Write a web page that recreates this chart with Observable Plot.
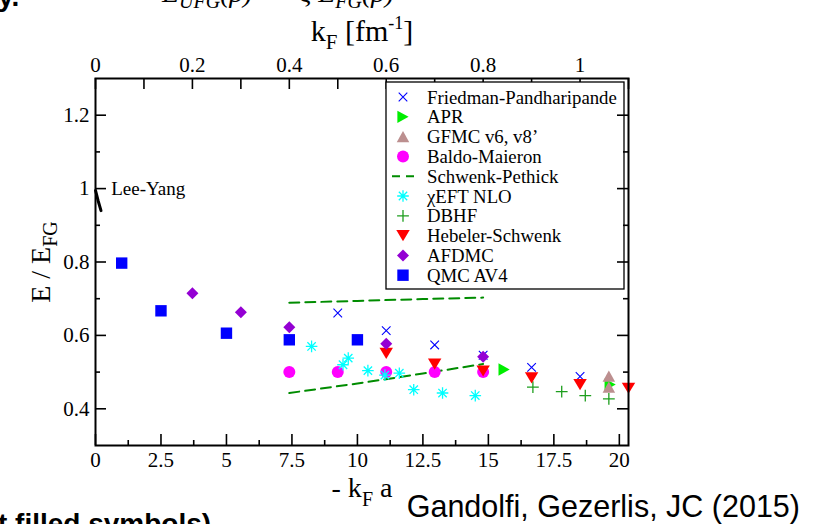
<!DOCTYPE html>
<html><head><meta charset="utf-8">
<script src="https://cdn.jsdelivr.net/npm/d3@7"></script>
<script src="https://cdn.jsdelivr.net/npm/@observablehq/plot@0.6"></script>
<style>body{margin:0;background:#fff;overflow:hidden}#wrap{position:relative;width:817px;height:524px;overflow:hidden}</style>
</head><body><div id="wrap"></div>
<script>
// |a| of neutron scattering length (fm) linking top (kF) and bottom (-kF a) axes
const A = 18.5;
const kfTicks = [0,0.1,0.2,0.3,0.4,0.5,0.6,0.7,0.8,0.9,1.0,1.1];
const kfMajor = [0,0.2,0.4,0.6,0.8,1.0];
const xMajor = [0,2.5,5,7.5,10,12.5,15,17.5,20];
const xMinor = [1.25,3.75,6.25,8.75,11.25,13.75,16.25,18.75];
const yMajor = [0.4,0.6,0.8,1.0,1.2];
const yMinor = [0.5,0.7,0.9,1.1];

const fpX = [9.25,11.1,12.95,14.8,16.65,18.5];
const fpY = [0.661,0.613,0.574,0.546,0.513,0.488];
const aprX = [15.6,19.65];
const aprY = [0.507,0.466];
const gfmcX = [19.6,19.6];
const gfmcY = [0.489,0.459];
const bmX = [7.4,9.25,11.1,12.95,14.8];
const bmY = [0.500,0.500,0.500,0.500,0.500];
const spUpX = [7.4,10,12.5,14.8];
const spUpY = [0.689,0.694,0.699,0.703];
const spLoX = [7.4,10,12.5,14.8];
const spLoY = [0.443,0.469,0.496,0.522];
const eftX = [8.25,9.45,9.65,10.4,11.05,11.6,12.15,13.25,14.5];
const eftY = [0.570,0.520,0.538,0.504,0.492,0.497,0.452,0.443,0.436];
const dbhfX = [16.7,17.8,18.7,19.6];
const dbhfY = [0.459,0.447,0.436,0.427];
const hsX = [11.1,12.95,14.8,16.65,18.5,20.35];
const hsY = [0.551,0.522,0.503,0.484,0.466,0.456];
const afX = [3.7,5.55,7.4,11.1,14.8];
const afY = [0.715,0.663,0.622,0.577,0.542];
const qmcX = [1.0,2.5,5.0,7.4,10.0];
const qmcY = [0.797,0.667,0.606,0.588,0.588];
const lyX = [0,0.1,0.21];
const lyY = [0.995,0.967,0.94];
const lyLabel = [{x:0.6, y:1.0, t:"Lee-Yang"}];

const legendNames = ["Friedman-Pandharipande","APR","GFMC v6, v8\u2019","Baldo-Maieron","Schwenk-Pethick","\u03c7EFT NLO","DBHF","Hebeler-Schwenk","AFDMC","QMC AV4"];

const pts = (X,Y) => X.map((x,i)=>({x, y:Y[i]}));

function sym(f){ return {draw(c,size){ f(c, Math.sqrt(size/Math.PI)); }}; }
const S = {
  square: sym((c,r)=>{c.moveTo(-r,-r);c.lineTo(r,-r);c.lineTo(r,r);c.lineTo(-r,r);c.closePath();}),
  diamond: sym((c,r)=>{c.moveTo(0,-r);c.lineTo(r,0);c.lineTo(0,r);c.lineTo(-r,0);c.closePath();}),
  down: sym((c,r)=>{c.moveTo(-1.2*r,-r);c.lineTo(1.2*r,-r);c.lineTo(0,r);c.closePath();}),
  right: sym((c,r)=>{c.moveTo(-r,-1.1*r);c.lineTo(r,0);c.lineTo(-r,1.1*r);c.closePath();}),
  up: sym((c,r)=>{c.moveTo(-1.1*r,r);c.lineTo(1.1*r,r);c.lineTo(0,-r);c.closePath();}),
  times: sym((c,r)=>{c.moveTo(-r,-r);c.lineTo(r,r);c.moveTo(-r,r);c.lineTo(r,-r);}),
  plus: sym((c,r)=>{c.moveTo(-r,0);c.lineTo(r,0);c.moveTo(0,-r);c.lineTo(0,r);}),
  aster: sym((c,r)=>{c.moveTo(-r,0);c.lineTo(r,0);c.moveTo(0,-r);c.lineTo(0,r);const q=0.72*r;c.moveTo(-q,-q);c.lineTo(q,q);c.moveTo(-q,q);c.lineTo(q,-q);}),
  circle: sym((c,r)=>{c.moveTo(r,0);c.arc(0,0,r,0,2*Math.PI);c.closePath();})
};
const C = {fp:"#0000ff", apr:"#00ee00", gfmc:"#bc8f8f", bm:"#ff00ff", sp:"#008c00", eft:"#00ffff", dbhf:"#1e9e1e", hs:"#ff0000", af:"#9400d3", qmc:"#0000ff"};
const styles = [
  {s:S.times, r:4.3, fill:"none", stroke:C.fp, sw:1.1},
  {s:S.right, r:5.6, fill:C.apr, stroke:"none"},
  {s:S.up, r:5.7, fill:C.gfmc, stroke:"none"},
  {s:S.circle, r:6.0, fill:C.bm, stroke:"none"},
  null,
  {s:S.aster, r:5.8, fill:"none", stroke:C.eft, sw:1.3},
  {s:S.plus, r:5.9, fill:"none", stroke:C.dbhf, sw:1.3},
  {s:S.down, r:5.6, fill:C.hs, stroke:"none"},
  {s:S.diamond, r:6.0, fill:C.af, stroke:"none"},
  {s:S.square, r:5.7, fill:C.qmc, stroke:"none"}
];
const dot = (data, st) => Plot.dot(data, {x:"x", y:"y", symbol: st.s, r: st.r, fill: st.fill, stroke: st.stroke, strokeWidth: st.sw||0});

const W = 817, H = 524, mL = 95, mR = 189, mT = 78, mB = 79;
const fw = W - mL - mR, fh = H - mT - mB;
const fmt = d => String(+(+d).toFixed(2));

const chart = Plot.plot({
  width: W, height: H, marginLeft: mL, marginRight: mR, marginTop: mT, marginBottom: mB,
  x: {domain: [0, 1.1*A]},
  y: {domain: [0.3, 1.3]},
  style: {fontFamily: "Liberation Serif", fontSize: "21px", color: "black", background: "white"},
  marks: [
    Plot.line(pts(spUpX, spUpY), {x:"x", y:"y", stroke: C.sp, strokeWidth: 2, strokeDasharray: "10,6"}),
    Plot.line(pts(spLoX, spLoY), {x:"x", y:"y", stroke: C.sp, strokeWidth: 2, strokeDasharray: "10,6"}),
    Plot.line(pts(lyX, lyY), {x:"x", y:"y", stroke: "black", strokeWidth: 3}),
    Plot.text(lyLabel, {x:"x", y:"y", text:"t", textAnchor:"start", fontSize: 19, fontFamily:"Liberation Serif"}),
    dot(pts(fpX, fpY), styles[0]),
    dot(pts(aprX, aprY), styles[1]),
    dot(pts(gfmcX, gfmcY), styles[2]),
    dot(pts(bmX, bmY), styles[3]),
    dot(pts(eftX, eftY), styles[5]),
    dot(pts(dbhfX, dbhfY), styles[6]),
    dot(pts(hsX, hsY), styles[7]),
    dot(pts(afX, afY), styles[8]),
    dot(pts(qmcX, qmcY), styles[9]),
    // ticks (inward)
    Plot.tickX(xMajor, {x: d=>d, insetTop: fh-11, stroke:"black", strokeWidth:1.6}),
    Plot.tickX(xMinor, {x: d=>d, insetTop: fh-5, stroke:"black", strokeWidth:1.6}),
    Plot.tickX(kfTicks.map(k=>k*A), {x: d=>d, insetBottom: fh-11, stroke:"black", strokeWidth:1.6}),
    Plot.tickY(yMajor, {y: d=>d, insetRight: fw-11, stroke:"black", strokeWidth:1.6}),
    Plot.tickY(yMinor, {y: d=>d, insetRight: fw-5, stroke:"black", strokeWidth:1.6}),
    Plot.axisX({anchor:"bottom", ticks: xMajor, tickSize: 0, tickPadding: 7, tickFormat: fmt, label: null}),
    Plot.axisX({anchor:"top", ticks: kfMajor.map(k=>k*A), tickSize: 0, tickPadding: 7, tickFormat: d => fmt(d/A), label: null}),
    Plot.axisY({anchor:"left", ticks: yMajor, tickSize: 0, tickPadding: 6, tickFormat: fmt, label: null})
  ]
});

document.getElementById("wrap").appendChild(chart);
const svg = d3.select(chart);

// Legend box (covers the top ticks, as in the reference)
const lg = svg.append("g");
const lx0 = 386, ly0 = 82, lw = 238, lh = 207;
lg.append("rect").attr("x", lx0).attr("y", ly0).attr("width", lw).attr("height", lh)
  .attr("fill", "white").attr("stroke", "black").attr("stroke-width", 1.3);
legendNames.forEach((name, i) => {
  const yy = 97 + i*19.8;
  const st = styles[i];
  if (st) {
    const p = d3.path(); st.s.draw(p, st.r*st.r*Math.PI);
    lg.append("path").attr("d", p.toString()).attr("transform", `translate(403,${yy})`)
      .attr("fill", st.fill).attr("stroke", st.stroke).attr("stroke-width", st.sw||0);
  } else {
    lg.append("line").attr("x1", 392).attr("x2", 416).attr("y1", yy).attr("y2", yy)
      .attr("stroke", C.sp).attr("stroke-width", 2).attr("stroke-dasharray", "8,6");
  }
  lg.append("text").attr("x", 427).attr("y", yy).attr("dy", "0.35em").attr("text-anchor", "start")
    .attr("font-family", "Liberation Serif").attr("font-size", 18.8).text(name);
});

// right-side ticks and frame drawn by Plot on top of the legend
const overlayPlot = Plot.plot({
  width: W, height: H, marginLeft: mL, marginRight: mR, marginTop: mT, marginBottom: mB,
  x: {domain: [0, 1.1*A], axis: null}, y: {domain: [0.3, 1.3], axis: null},
  style: {background: "transparent"},
  marks: [
    Plot.tickY(yMajor, {y: d=>d, insetLeft: fw-11, stroke:"black", strokeWidth:1.6}),
    Plot.tickY(yMinor, {y: d=>d, insetLeft: fw-5, stroke:"black", strokeWidth:1.6}),
    Plot.frame({stroke:"black", strokeWidth: 2})
  ]
});
for (const n of Array.from(overlayPlot.childNodes)) {
  if (n.nodeType === 1 && n.tagName.toLowerCase() !== "style") chart.appendChild(n);
}

// axis titles
const yl = svg.append("text").attr("transform", "translate(50,262) rotate(-90)")
  .attr("text-anchor", "middle").attr("font-family", "Liberation Serif").attr("font-size", 28);
yl.append("tspan").text("E / E");
yl.append("tspan").attr("font-size", 20).attr("dy", 7).text("FG");

const tl = svg.append("text").attr("x", 362).attr("y", 41).attr("text-anchor", "middle")
  .attr("font-family", "Liberation Serif").attr("font-size", 30);
tl.append("tspan").text("k");
tl.append("tspan").attr("font-size", 21).attr("dy", 8).text("F");
tl.append("tspan").attr("dy", -8).text(" [fm");
tl.append("tspan").attr("font-size", 18).attr("dy", -12).text("-1");
tl.append("tspan").attr("dy", 12).text("]");

const bl = svg.append("text").attr("x", 362).attr("y", 497).attr("text-anchor", "middle")
  .attr("font-family", "Liberation Serif").attr("font-size", 28);
bl.append("tspan").text("- k");
bl.append("tspan").attr("font-size", 20).attr("dy", 9).text("F");
bl.append("tspan").attr("dy", -9).text(" a");

svg.append("text").attr("x", 800).attr("y", 517).attr("text-anchor", "end")
  .attr("font-family", "Liberation Sans").attr("font-size", 30.5).text("Gandolfi, Gezerlis, JC (2015)");

// cut-off slide text above and below the figure
svg.append("text").attr("x", -2).attr("y", 6).attr("text-anchor", "start").attr("font-family", "Liberation Sans").attr("font-weight", "bold")
  .attr("font-size", 28).text("y.");
const tt = svg.append("text").attr("x", 162).attr("y", 2).attr("text-anchor", "start").attr("font-family", "Liberation Serif").attr("font-style", "italic").attr("font-size", 28);
tt.append("tspan").text("E");
tt.append("tspan").attr("font-size", 20).attr("dy", 6).text("UFG");
tt.append("tspan").attr("dy", -6).text("(\u03c1)  =  \u03be E");
tt.append("tspan").attr("font-size", 20).attr("dy", 6).text("FG");
tt.append("tspan").attr("dy", -6).text("(\u03c1)");
svg.append("text").attr("x", -2).attr("y", 533).attr("text-anchor", "start").attr("font-family", "Liberation Sans").attr("font-weight", "bold")
  .attr("font-size", 28).text("t filled symbols)");
</script>
</body></html>
